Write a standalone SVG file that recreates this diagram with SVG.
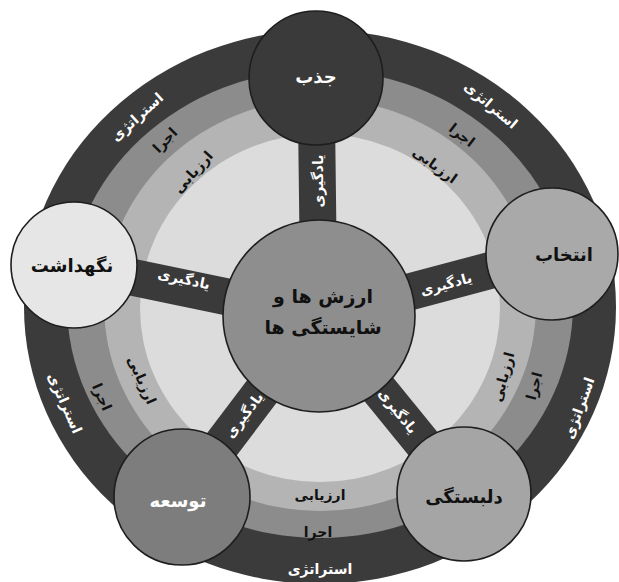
<svg xmlns="http://www.w3.org/2000/svg" width="619" height="582" viewBox="0 0 619 582">
<style>
text{font-family:"DejaVu Sans","Noto Sans",sans-serif;font-weight:bold;text-anchor:middle;dominant-baseline:central}
.node{stroke:#1e1e1e;stroke-width:1.6}
.w{fill:#ffffff}
.k{fill:#111111}
.rl{font-size:14px}
.sl{font-size:14px;fill:#ffffff}
.nl{font-size:18px}
.spoke{stroke:#3a3a3a;stroke-width:37}
</style>
<rect width="619" height="582" fill="#ffffff"/>
<g id="rings">
<ellipse cx="320" cy="307" rx="296" ry="277" fill="#3b3b3b"/>
<ellipse cx="320" cy="304" rx="253" ry="234" fill="#8c8c8c"/>
<ellipse cx="320" cy="305" rx="216" ry="206" fill="#b4b4b4"/>
<ellipse cx="320" cy="308" rx="180" ry="174" fill="#dcdcdc"/>
</g>
<g id="ring-labels">
<text class="rl w" transform="translate(137,117) rotate(-42)">استراتژی</text>
<text class="rl k" transform="translate(165,140) rotate(-46)">اجرا</text>
<text class="rl k" transform="translate(193,172) rotate(-48)">ارزیابی</text>
<text class="rl w" transform="translate(491,105) rotate(40)">استراتژی</text>
<text class="rl k" transform="translate(462,135) rotate(38)">اجرا</text>
<text class="rl k" transform="translate(435,165) rotate(36)">ارزیابی</text>
<text class="rl w" transform="translate(579,408) rotate(-70)">استراتژی</text>
<text class="rl k" transform="translate(534,386) rotate(-75)">اجرا</text>
<text class="rl k" transform="translate(503,377) rotate(-75)">ارزیابی</text>
<text class="rl w" transform="translate(320,569)">استراتژی</text>
<text class="rl k" transform="translate(318,532)">اجرا</text>
<text class="rl k" transform="translate(320,495)">ارزیابی</text>
<text class="rl w" transform="translate(65,403) rotate(66)">استراتژی</text>
<text class="rl k" transform="translate(102,397) rotate(66)">اجرا</text>
<text class="rl k" transform="translate(142,380) rotate(66)">ارزیابی</text>
</g>
<g id="connectors">
<line class="spoke" x1="319" y1="316" x2="316" y2="78"/>
<line class="spoke" x1="319" y1="316" x2="552" y2="254"/>
<line class="spoke" x1="319" y1="316" x2="464" y2="494"/>
<line class="spoke" x1="319" y1="316" x2="182" y2="497"/>
<line class="spoke" x1="319" y1="316" x2="73" y2="265"/>
<text class="sl" transform="translate(318,181) rotate(-90)">یادگیری</text>
<text class="sl" transform="translate(446,284) rotate(-15)">یادگیری</text>
<text class="sl" transform="translate(398,411) rotate(51)">یادگیری</text>
<text class="sl" transform="translate(244,415) rotate(-53)">یادگیری</text>
<text class="sl" transform="translate(184,279) rotate(12)">یادگیری</text>
</g>
<g id="node-center">
<circle class="node" cx="319" cy="316" r="96" fill="#8e8e8e"/>
<text class="k" x="323" y="296" font-size="19">ارزش ها و</text>
<text class="k" x="323" y="327" font-size="19">شایستگی ها</text>
</g>
<g id="node-jazb">
<circle class="node" cx="316" cy="78" r="67" fill="#3a3a3a"/>
<text class="nl w" x="316" y="76">جذب</text>
</g>
<g id="node-entekhab">
<circle class="node" cx="552" cy="254" r="66" fill="#a9a9a9"/>
<text class="nl k" x="564" y="254">انتخاب</text>
</g>
<g id="node-delbastegi">
<circle class="node" cx="464" cy="494" r="67" fill="#a5a5a5"/>
<text class="nl k" x="464" y="496">دلبستگی</text>
</g>
<g id="node-towseeh">
<circle class="node" cx="182" cy="497" r="68" fill="#7d7d7d"/>
<text class="nl w" x="178" y="500">توسعه</text>
</g>
<g id="node-negahdasht">
<circle class="node" cx="74" cy="265" r="63" fill="#e6e6e6"/>
<text class="nl k" x="72" y="265">نگهداشت</text>
</g>
</svg>
